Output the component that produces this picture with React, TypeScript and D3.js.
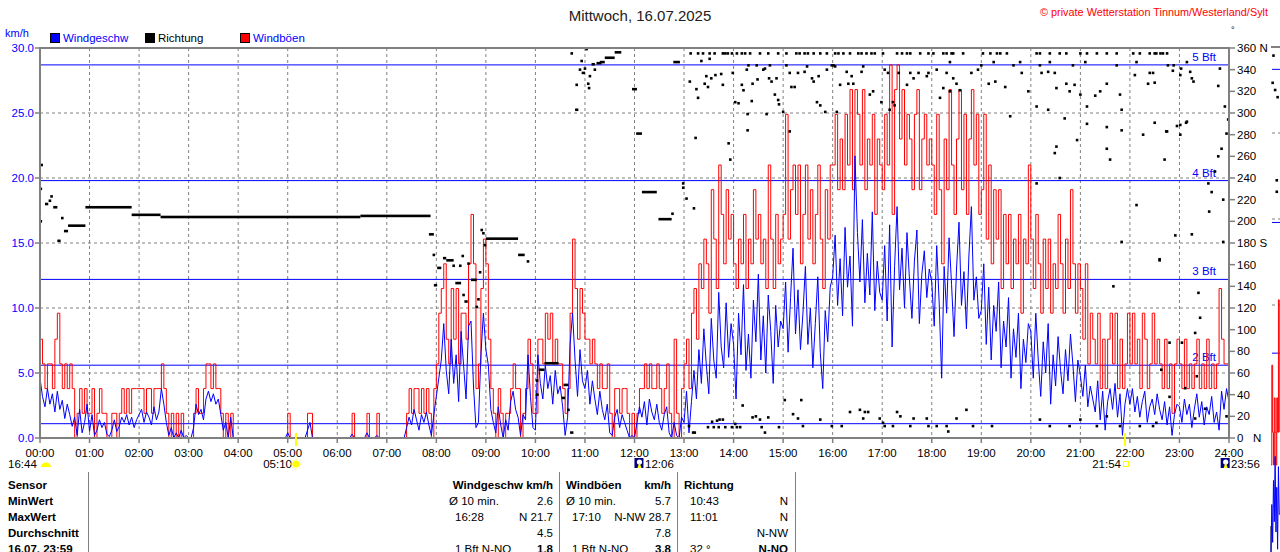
import React from "react";
import * as d3 from "d3";

// ---------------- DATA ----------------
const SAMPLE_MIN = 3; // one reading every 3 minutes

// Windgeschwindigkeit km/h, 00:00 - 07:57 (20 values per hour)
const speedNight = [
  4.6,3.2,2.4,3.8,2.6,3.4,2.0,3.6,2.2,2.9,1.5,2.6,1.8,0.9,1.6,0.2,2.2,0.4,1.2,2.6, // 00
  0.5,1.8,0.2,0.6,1.4,0.8,1.2,0.3,0.1,0.6,1.4,0.5,0.9,1.6,1.2,1.8,1.0,1.6,0.8,1.4, // 01
  1.8,2.2,1.2,2.0,1.6,1.0,2.4,1.4,2.0,3.8,2.6,1.2,0.2,0.8,0,0.4,0,0.6,0,0.2,       // 02
  0,0,0.8,2.6,1.8,2.2,1.4,3.0,3.6,2.8,3.4,2.6,3.0,1.8,0.6,1.2,0,1.6,0,0,           // 03
  0,0,0,0,0,0,0,0,0,0,0,0,0,0,0,0,0,0,0,0,                                         // 04
  0.4,0,0,0,0,0,0,0,0.6,1.2,0,0,0,0,0,0,0,0,0,0,                                   // 05
  0,0,0,0,0,0,0.3,0,0,0,0,0,0.4,0,0,0,0.2,0,0,0,                                   // 06
  0,0,0,0,0,0,0,0,0.8,1.6,1.0,2.2,1.4,0.6,1.8,1.2,2.0,1.0,0.2,1.8,                 // 07
];
// 08:00 - 12:57
const speedMorning = [
  3.2,4.6,6.0,8.8,5.2,3.4,7.6,4.2,6.4,2.8,8.2,5.6,3.0,8.6,9.0,4.0,0.8,1.2,6.4,9.6, // 08
  6.8,5.6,2.2,1.2,0.4,2.4,1.0,0,1.4,0.6,2.8,3.6,2.2,1.6,0.2,1.8,1.4,6.4,3.2,0.8,   // 09
  0.6,6.4,4.2,3.0,5.6,3.8,4.8,2.6,5.2,3.4,4.0,2.4,0.2,1.6,7.2,9.6,6.0,3.2,6.8,4.4, // 10
  3.8,5.2,2.6,4.4,3.0,1.8,3.6,2.2,1.4,2.6,0.4,0.2,1.6,2.2,0.8,1.8,1.2,0.6,0,0.2,   // 11
  0,1.2,2.4,1.6,2.8,1.0,3.0,2.0,1.4,2.6,1.2,0.6,1.8,2.4,0.4,0,1.2,0.2,0,1.6,       // 12
];
// 13:00 - 18:57
const speedAfternoon = [
  1.2,3.6,0.4,2.8,5.2,3.0,6.8,4.2,8.4,5.6,3.4,9.2,6.0,4.6,11.2,7.0,5.4,10.4,6.2,8.8,      // 13
  7.2,3.0,9.6,6.4,11.8,5.2,8.0,4.6,10.6,7.4,12.6,6.0,9.4,5.0,11.0,8.2,4.2,10.2,7.0,9.0,   // 14
  8.4,12.0,6.6,10.8,14.6,8.0,11.4,6.8,9.6,13.2,7.2,10.0,5.4,8.8,12.4,6.6,3.8,9.8,7.4,11.6, // 15
  12.4,15.6,10.2,13.8,9.4,16.2,11.6,14.0,8.6,21.7,15.8,12.0,16.8,10.4,14.2,11.0,17.4,9.8,13.6,11.2, // 16
  10.6,14.8,9.0,16.4,7.0,13.2,17.8,11.4,14.6,10.0,15.8,12.2,9.2,13.6,16.0,8.8,12.6,14.4,10.8,13.0, // 17
  12.0,8.6,14.8,10.4,4.6,13.2,9.6,15.4,11.8,7.8,13.0,16.6,10.2,12.8,8.4,14.0,17.8,10.6,12.4,9.2,  // 18
];
// 19:00 - 24:00
const speedEvening = [
  9.8,13.4,7.2,11.6,6.0,10.2,8.2,12.0,5.4,9.0,7.0,10.8,4.6,8.4,6.2,9.6,3.8,7.6,5.8,8.8, // 19
  8.2,4.6,9.6,6.0,3.2,7.4,5.0,8.8,2.6,6.4,4.0,7.8,5.2,3.4,6.8,4.4,8.0,5.6,2.8,6.0,     // 20
  4.8,3.2,5.6,2.4,4.0,3.0,2.0,4.4,1.4,3.6,0.6,2.8,3.8,2.2,4.2,1.6,3.4,0.2,2.6,3.8,     // 21
  2.6,3.8,2.0,3.2,1.6,2.8,3.6,1.2,2.4,3.0,1.8,3.4,2.2,1.4,2.8,1.0,2.4,0.2,1.8,2.6,     // 22
  2.4,1.2,3.0,1.8,2.6,0.8,2.2,3.4,1.6,2.8,1.0,2.4,1.8,3.2,1.2,2.0,0.6,3.6,2.2,3.8,2.8, // 23 + 24:00
];

// Windböen km/h
const gustNight = [
  7.6,5.7,3.8,5.7,5.7,3.8,7.6,9.6,5.7,3.8,5.7,3.8,5.7,3.8,0,1.9,3.8,1.9,3.8,1.9, // 00
  1.9,3.8,0,1.9,3.8,1.9,1.9,0,0,1.9,1.9,0,1.9,3.8,1.9,3.8,1.9,3.8,3.8,3.8,       // 01
  3.8,3.8,1.9,3.8,3.8,1.9,3.8,3.8,3.8,5.7,3.8,1.9,0,1.9,0,1.9,0,1.9,0,0,         // 02
  0,0,1.9,3.8,1.9,1.9,3.8,5.7,5.7,3.8,5.7,3.8,3.8,1.9,0,1.9,0,1.9,0,0,           // 03
  0,0,0,0,0,0,0,0,0,0,0,0,0,0,0,0,0,0,0,0,                                       // 04
  1.9,0,0,0,0,0,0,0,1.9,1.9,0,0,0,0,0,0,0,0,0,0,                                 // 05
  0,0,0,0,0,0,1.9,0,0,0,0,0,1.9,0,0,0,1.9,0,0,0,                                 // 06
  0,0,0,0,0,0,0,0,1.9,3.8,1.9,3.8,3.8,1.9,3.8,1.9,3.8,1.9,0,3.8,                 // 07
];
const gustMorning = [
  5.7,9.6,11.5,13.4,7.6,5.7,11.5,7.6,11.5,5.7,9.6,9.6,7.6,13.4,17.2,13.4,3.8,5.7,11.5,15.3, // 08
  13.4,7.6,3.8,1.9,0,3.8,1.9,0,1.9,1.9,3.8,5.7,3.8,3.8,0,1.9,3.8,7.6,5.7,1.9,             // 09
  1.9,7.6,7.6,5.7,9.6,7.6,9.6,5.7,7.6,5.7,5.7,3.8,1.9,3.8,9.6,15.3,11.5,7.6,11.5,9.6,      // 10
  7.6,7.6,5.7,7.6,5.7,3.8,5.7,3.8,3.8,5.7,1.9,0,3.8,3.8,1.9,3.8,3.8,1.9,0,1.9,             // 11
  0,1.9,3.8,3.8,5.7,3.8,5.7,3.8,3.8,5.7,3.8,1.9,3.8,5.7,1.9,0,7.6,1.9,0,3.8,               // 12
];
const gustAfternoon = [
  5.7,7.6,3.8,9.6,11.5,7.6,13.4,11.5,15.3,13.4,9.6,19.1,15.3,11.5,21.0,17.2,13.4,19.1,15.3,17.2, // 13
  13.4,11.5,15.3,13.4,17.2,11.5,15.3,13.4,19.1,15.3,17.2,13.4,15.3,11.5,21.0,15.3,11.5,17.2,13.4,15.3, // 14
  17.2,24.9,15.3,19.1,21.0,17.2,21.0,13.4,17.2,21.0,15.3,19.1,13.4,17.2,21.0,15.3,11.5,19.1,15.3,21.0, // 15
  21.0,24.9,19.1,23.0,19.1,24.9,21.0,26.8,19.1,26.8,24.9,21.0,26.8,19.1,23.0,21.0,24.9,17.2,23.0,21.0, // 16
  19.1,24.9,21.0,28.7,17.2,26.8,28.7,23.0,26.8,21.0,24.9,23.0,19.1,24.9,26.8,19.1,23.0,24.9,21.0,23.0, // 17
  21.0,17.2,24.9,19.1,13.4,23.0,19.1,26.8,21.0,17.2,23.0,26.8,19.1,24.9,17.2,23.0,26.8,21.0,24.9,17.2, // 18
];
const gustEvening = [
  19.1,24.9,15.3,21.0,13.4,19.1,15.3,19.1,11.5,17.2,13.4,17.2,11.5,15.3,13.4,17.2,9.6,15.3,13.4,21.0, // 19
  15.3,11.5,17.2,13.4,9.6,15.3,11.5,15.3,9.6,13.4,11.5,17.2,13.4,9.6,15.3,11.5,19.1,13.4,9.6,13.4,    // 20
  11.5,7.6,13.4,5.7,9.6,7.6,5.7,9.6,3.8,7.6,3.8,7.6,9.6,5.7,9.6,3.8,7.6,3.8,5.7,9.6,                 // 21
  5.7,9.6,5.7,7.6,3.8,9.6,7.6,3.8,5.7,9.6,5.7,7.6,5.7,3.8,7.6,3.8,5.7,1.9,5.7,7.6,                   // 22
  5.7,3.8,7.6,3.8,5.7,3.8,5.7,7.6,3.8,5.7,3.8,7.6,3.8,5.7,3.8,5.7,11.5,7.6,5.7,5.7,5.7,              // 23 + 24:00
];

// Richtung: steady runs [startMinute, endMinute, degrees]
const dirRuns: [number, number, number][] = [
  [6,10,216],[16,21,213],[21,25,182],[29,34,191],[34,55,196],[55,111,213],[111,146,206],
  [146,388,204],[388,473,205],[471,477,188],[477,481,141],[481,486,157],[488,492,166],
  [492,501,164],[503,510,143],[514,518,126],[522,529,146],[540,579,184],[579,587,169],
  [600,604,40],[604,611,63],[611,628,69],[632,636,37],[634,640,49],[642,646,5],[648,652,303],
  [656,660,337],[668,672,345],[674,680,346],[678,684,347],[684,696,351],[696,704,356],
  [717,723,322],[722,729,281],[729,747,227],[749,765,202],[767,775,347],
];
// Richtung: single readings [minute, degrees]
const dirDotsMorning: [number, number][] = [
  [1,200],[1,230],[2,252],[12,219],[14,223],[27,203],[477,169],[501,159],[509,159],[512,168],
  [513,132],[519,161],[529,121],[531,128],[533,153],[535,192],[537,189],[539,178],[591,163],
  [602,53],[640,26],[644,355],[650,326],[654,340],[656,348],[660,341],[662,359],[664,327],
  [665,323],[666,334],[672,340],[766,207],[779,235],[779,231],[783,221],[792,212],
];
const dirDotsAfternoon: [number, number][] = [
  [788,355],[797,355],[803,355],[811,355],[817,355],[827,355],[830,355],[833,355],[838,355],
  [801,348],[811,350],[787,329],[795,322],[805,327],[807,334],[809,324],[813,332],[818,335],
  [825,336],[827,326],[797,314],[794,277],[834,272],[836,257],[786,11],[791,5],[793,5],
  [814,15],[820,16],[823,17],[827,17],[809,10],[816,10],[822,10],[830,10],[838,10],
  [844,355],[850,355],[854,355],[860,355],[872,355],[882,355],[894,355],[858,344],[868,344],
  [884,344],[839,337],[850,326],[852,321],[856,340],[863,327],[869,331],[876,340],[878,341],
  [883,332],[886,329],[892,332],[890,317],[894,312],[895,308],[842,310],[846,309],[862,311],
  [857,299],[880,299],[857,284],[842,13],[844,10],[848,10],[851,30],[863,19],[867,20],
  [872,17],[874,10],[878,5],[882,19],[895,10],
  [904,355],[916,355],[920,355],[926,355],[930,355],[937,355],[945,355],[953,355],[963,355],
  [967,355],[973,355],[981,355],[991,355],[995,355],[1001,355],[1007,355],[1011,355],
  [1021,355],[1038,355],[1044,355],[1050,355],[1054,355],[1066,355],[1076,355],[1082,355],
  [1094,355],[1098,355],[1106,355],
  [904,344],[908,337],[910,324],[914,324],[918,337],[926,338],[929,343],[935,332],[937,329],
  [941,310],[943,334],[945,307],[953,340],[959,344],[961,344],[963,343],[969,326],[977,338],
  [979,327],[983,334],[985,327],[995,338],[997,343],[1005,317],[1009,320],[1019,310],
  [1023,340],[1027,337],[1029,303],[1033,310],[1035,307],[1040,337],[1050,326],[1054,337],
  [1058,332],[1064,337],[1074,334],[1076,337],[1086,340],[1090,314],[1094,323],[1098,337],
  [1102,320],[1110,327],[908,283],[900,301],[951,301],[965,301],
  [902,35],[922,35],[912,22],[918,18],[924,11],[945,17],[959,11],[971,11],[981,24],[993,26],
  [999,24],[997,18],[1003,24],[1017,18],[1021,14],[1023,11],[1033,11],[1038,24],[1042,20],
  [1054,11],[1058,18],[1074,18],[1076,11],[1086,11],[1098,11],[1110,18],
];
const dirDotsEvening: [number, number][] = [
  [1104,355],[1118,355],[1142,355],[1151,355],[1159,355],[1163,355],[1171,355],[1207,355],
  [1211,355],[1223,355],[1235,355],[1243,355],[1260,355],[1268,355],[1280,355],[1292,355],
  [1304,355],[1324,355],[1332,355],[1344,355],[1350,355],[1352,355],[1357,355],[1360,355],[1365,355],
  [1102,347],[1140,344],[1155,347],[1179,344],[1187,347],[1211,344],[1223,347],[1251,344],
  [1266,347],[1304,344],[1328,347],[1373,344],[1389,347],
  [1106,332],[1114,321],[1128,337],[1136,340],[1149,327],[1157,329],[1169,324],[1189,337],
  [1197,320],[1207,306],[1213,337],[1221,338],[1229,337],[1231,323],[1243,327],[1247,320],
  [1253,326],[1260,317],[1268,306],[1278,316],[1284,320],[1292,327],[1308,317],[1310,303],
  [1326,335],[1342,327],[1344,337],[1381,335],
  [1175,297],[1221,303],[1241,295],[1268,290],[1292,287],[1310,284],[1336,280],[1365,283],
  [1381,289],[1389,292],[1231,269],[1256,275],[1229,263],[1292,267],[1296,257],[1328,215],
  [1356,164],[1310,181],[1235,240],[1207,235],[1300,140],
  [1100,6],[1130,11],[1153,11],[1211,17],[1223,11],[1247,11],[1260,17],[1280,11],[1292,20],
  [1308,11],[1332,11],[1348,11],[1122,26],
  [1366,344],[1372,339],[1382,341],[1393,338],[1395,332],[1397,329],[1429,341],[1348,337],
  [1350,328],[1427,325],[1435,306],[1439,294],[1350,291],[1364,283],[1377,288],[1388,291],
  [1381,280],[1437,281],[1427,260],[1431,267],[1362,257],[1423,246],[1415,235],[1419,227],
  [1433,220],[1416,209],[1395,188],[1375,187],[1433,181],[1356,165],[1403,134],[1405,111],
  [1399,97],[1383,88],[1368,88],[1358,63],[1401,57],[1387,46],[1368,38],[1411,27],[1352,14],
  [1399,18],[1437,20],
];

// next day's panel (only its first minutes are visible at the right edge)
const nextGust = [5.7,11.5,7.6,5.7,9.6,7.6,5.7,9.6,7.6,15.3,7.6];
const nextSpeed = [0.6,3.4,1.2,4.8,2.4,6.2,1.8,4.4,0.8,5.6,2.8];
const nextDirDots: [number, number][] = [[3,354],[2,335],[5,330],[8,325],[7,267],[7,259]];

// axes
const hourValues = d3.range(0, 25);
const hourLabels = hourValues.map((h) => `${String(h).padStart(2, "0")}:00`);
const speedTicks = [0, 5, 10, 15, 20, 25, 30];
const gridSpeed = [5, 10, 15, 20, 25];
const dirTicks = d3.range(0, 361, 20);
const dirCompass: Record<number, string> = { 360: "N", 180: "S", 0: "N" };
const bftNames = ["", "2 Bft", "3 Bft", "4 Bft", "5 Bft"];
const bftKmh = [1.1, 5.6, 12.2, 19.8, 28.7];

// sun / moon events
const sunriseMin = 5 * 60 + 10;
const sunsetMin = 21 * 60 + 54;
const moonEvents = [
  { label: "16:44", kind: "moonset" },
  { label: "12:06", min: 12 * 60 + 6, kind: "moon" },
  { label: "23:56", min: 23 * 60 + 56, kind: "moon" },
];

// table
const tableLabels = ["Sensor", "MinWert", "MaxWert", "Durchschnitt", "16.07. 23:59"];
const speedHeader = "Windgeschw km/h";
const speedRows = [["Ø 10 min.", "2.6"], ["16:28", "N 21.7"], ["", "4.5"], ["1 Bft N-NO", "1.8"]];
const gustHeader = ["Windböen", "km/h"];
const gustRows = [["Ø 10 min.", "5.7"], ["17:10", "N-NW 28.7"], ["", "7.8"], ["1 Bft N-NO", "3.8"]];
const dirHeader = "Richtung";
const dirRows = [["10:43", "N"], ["11:01", "N"], ["", "N-NW"], ["32 °", "N-NO"]];

// ---------------- CHART ----------------
const FONT = "'Liberation Sans', Arial, Helvetica, sans-serif";
const BLUE = "#0000ff";
const RED = "#ff0000";
const GRAY = "#808080";

export default function App() {
  const speed = [...speedNight, ...speedMorning, ...speedAfternoon, ...speedEvening];
  const gust = [...gustNight, ...gustMorning, ...gustAfternoon, ...gustEvening];
  const dirDots = [...dirDotsMorning, ...dirDotsAfternoon, ...dirDotsEvening];

  const x = d3.scaleLinear().domain([0, 1440]).range([40, 1229]);
  const y = d3.scaleLinear().domain([0, 30]).range([438, 48]);
  const yDir = d3.scaleLinear().domain([0, 360]).range([438, 48]);

  const gustPath = d3
    .line<number>()
    .x((_, i) => x(i * SAMPLE_MIN))
    .y((d) => y(d))
    .curve(d3.curveStepAfter)(gust) || "";
  const speedPath = d3
    .line<number>()
    .x((_, i) => x(i * SAMPLE_MIN))
    .y((d) => y(d))(speed) || "";

  // next-day panel scales
  const xN = d3.scaleLinear().domain([0, 1440]).range([1271, 1271 + 1189]);
  const yN = d3.scaleLinear().domain([0, 30]).range([563, 47]);
  const yNDir = d3.scaleLinear().domain([0, 360]).range([563, 47]);
  const nGustPath = d3.line<number>().x((_, i) => xN(i)).y((d) => yN(d)).curve(d3.curveStepAfter)(nextGust) || "";
  const nSpeedPath = d3.line<number>().x((_, i) => xN(i)).y((d) => yN(d))(nextSpeed) || "";

  const rowY = [485, 501, 517, 533, 549];
  const moonIcon = (cx: number) => (
    <g>
      <rect x={cx - 4} y={458} width={9} height={10} fill="#000080" />
      <circle cx={cx + 1} cy={462} r={2.6} fill="#ffffff" />
      <path d={`M${cx - 1},468 L${cx + 1},462 L${cx + 3},468 Z`} fill="#ffff00" />
    </g>
  );

  return (
    <div style={{ position: "absolute", left: 0, top: 0 }}>
      <svg width={1280} height={552} style={{ display: "block", background: "#fff" }} fontFamily={FONT}>
        <rect x={0} y={0} width={1280} height={552} fill="#ffffff" />

        {/* title */}
        <text x={640} y={21} textAnchor="middle" fontSize={15} fill="#202020">Mittwoch, 16.07.2025</text>
        <text x={1040} y={16} fontSize={11} fill={RED} textLength={228} lengthAdjust="spacingAndGlyphs">© private Wetterstation Tinnum/Westerland/Sylt</text>
        <text x={1231} y={33} fontSize={9} fill="#000">°</text>

        {/* legend */}
        <text x={5} y={37} fontSize={11} fill={BLUE}>km/h</text>
        <rect x={50.5} y={33.5} width={9} height={9} fill={BLUE} stroke="#000" />
        <text x={63} y={42} fontSize={11.5} fill={BLUE}>Windgeschw</text>
        <rect x={145.5} y={33.5} width={9} height={9} fill="#000" stroke="#000" />
        <text x={158} y={42} fontSize={11.5} fill="#000">Richtung</text>
        <rect x={240.5} y={33.5} width={9} height={9} fill={RED} stroke="#000" />
        <text x={253} y={42} fontSize={11.5} fill={BLUE}>Windböen</text>

        {/* grid */}
        {gridSpeed.map((v) => (
          <line key={"gh" + v} x1={x(0)} x2={x(1440)} y1={y(v)} y2={y(v)} stroke={GRAY} strokeDasharray="3 3" />
        ))}
        {hourValues.slice(1, 24).map((h) => (
          <line key={"gv" + h} x1={x(h * 60)} x2={x(h * 60)} y1={y(30)} y2={y(0)} stroke={GRAY} strokeDasharray="3 3" />
        ))}

        {/* Beaufort lines */}
        {bftKmh.map((v, i) => (
          <g key={"bft" + i}>
            <line x1={x(0)} x2={x(1440)} y1={y(v)} y2={y(v)} stroke={BLUE} strokeWidth={1} />
            {bftNames[i] && (
              <text x={1216} y={y(v) - 4} textAnchor="end" fontSize={11.5} fill={BLUE}>{bftNames[i]}</text>
            )}
          </g>
        ))}

        {/* data */}
        <path d={gustPath} fill="none" stroke={RED} strokeWidth={1} />
        <path d={speedPath} fill="none" stroke={BLUE} strokeWidth={1} />
        {dirRuns.map(([a, b, d], i) => (
          <rect key={"run" + i} x={x(a)} y={yDir(d) - 1.3} width={Math.max(2.6, x(b) - x(a))} height={2.6} fill="#000" />
        ))}
        {dirDots.map(([m, d], i) => (
          <rect key={"dot" + i} x={x(m) - 1.3} y={yDir(d) - 1.3} width={2.6} height={2.6} fill="#000" />
        ))}

        {/* frame */}
        <rect x={x(0)} y={y(30)} width={x(1440) - x(0)} height={y(0) - y(30)} fill="none" stroke={GRAY} strokeWidth={2} />

        {/* left axis */}
        {speedTicks.map((v) => (
          <g key={"ls" + v}>
            <line x1={35} x2={40} y1={y(v)} y2={y(v)} stroke={GRAY} strokeWidth={1.5} />
            <text x={34} y={y(v) + 4} textAnchor="end" fontSize={11.5} fill={BLUE}>{v.toFixed(1)}</text>
          </g>
        ))}

        {/* right axis */}
        {dirTicks.map((d) => (
          <g key={"rd" + d}>
            <line x1={1229} x2={1235} y1={yDir(d)} y2={yDir(d)} stroke={GRAY} strokeWidth={1.5} />
            <text x={1237} y={yDir(d) + 4} fontSize={11.5} fill="#000">
              {d === 0 ? "0" : d}
              {d !== 0 && dirCompass[d] ? " " + dirCompass[d] : ""}
            </text>
            {d === 0 && <text x={1253} y={yDir(d) + 4} fontSize={11.5} fill="#000">{dirCompass[0]}</text>}
          </g>
        ))}

        {/* bottom axis */}
        {hourValues.map((h, i) => (
          <g key={"ha" + h}>
            <line x1={x(h * 60)} x2={x(h * 60)} y1={438} y2={443} stroke={GRAY} strokeWidth={1.5} />
            <text x={x(h * 60)} y={457} textAnchor="middle" fontSize={11.5} fill="#000">{hourLabels[i]}</text>
          </g>
        ))}

        {/* sunrise / sunset markers */}
        <line x1={x(sunriseMin)} x2={x(sunriseMin)} y1={433} y2={446} stroke="#ffff00" strokeWidth={2} />
        <line x1={x(sunsetMin)} x2={x(sunsetMin)} y1={433} y2={446} stroke="#ffff00" strokeWidth={2} />
        <text x={292} y={468} textAnchor="end" fontSize={11.5} fill="#000">05:10</text>
        <g>
          {d3.range(8).map((k) => {
            const a = (k * Math.PI) / 4;
            return (
              <line key={"ray" + k} x1={x(sunriseMin) + Math.cos(a) * 4} y1={464 + Math.sin(a) * 4}
                x2={x(sunriseMin) + Math.cos(a) * 6} y2={464 + Math.sin(a) * 6} stroke="#ffff66" strokeWidth={1} />
            );
          })}
          <circle cx={x(sunriseMin)} cy={464} r={3.6} fill="#ffff00" />
        </g>
        <text x={1121} y={468} textAnchor="end" fontSize={11.5} fill="#000">21:54</text>
        <rect x={x(sunsetMin) - 1.5} y={461.5} width={5} height={5} fill="none" stroke="#ffff00" />

        <text x={8} y={468} fontSize={11.5} fill="#000">{moonEvents[0].label}</text>
        <path d="M41,467 A5,4.5 0 0 1 51,467 Z" fill="#ffff00" />
        {moonIcon(x(moonEvents[1].min as number) - 1)}
        <text x={645} y={468} fontSize={11.5} fill="#000">{moonEvents[1].label}</text>
        {moonIcon(x(moonEvents[2].min as number) - 1)}
        <text x={1231} y={468} fontSize={11.5} fill="#000">{moonEvents[2].label}</text>

        {/* table */}
        {[88, 559, 677, 795].map((vx) => (
          <line key={"tv" + vx} x1={vx + 0.5} x2={vx + 0.5} y1={472} y2={552} stroke={GRAY} />
        ))}
        {tableLabels.map((t, i) => (
          <text key={"tl" + i} x={8} y={rowY[i] + 4} fontSize={11.5} fontWeight="bold" fill="#000">{t}</text>
        ))}
        <text x={553} y={rowY[0] + 4} textAnchor="end" fontSize={11.5} fontWeight="bold" fill="#000">{speedHeader}</text>
        {speedRows.map(([l, r], i) => (
          <g key={"sr" + i}>
            <text x={i === 0 ? 449 : 455} y={rowY[i + 1] + 4} fontSize={11.5} fill="#000">{l}</text>
            <text x={553} y={rowY[i + 1] + 4} textAnchor="end" fontSize={11.5} fontWeight={i === 3 ? "bold" : "normal"} fill="#000">{r}</text>
          </g>
        ))}
        <text x={566} y={rowY[0] + 4} fontSize={11.5} fontWeight="bold" fill="#000">{gustHeader[0]}</text>
        <text x={671} y={rowY[0] + 4} textAnchor="end" fontSize={11.5} fontWeight="bold" fill="#000">{gustHeader[1]}</text>
        {gustRows.map(([l, r], i) => (
          <g key={"gr" + i}>
            <text x={i === 0 ? 566 : 572} y={rowY[i + 1] + 4} fontSize={11.5} fill="#000">{l}</text>
            <text x={671} y={rowY[i + 1] + 4} textAnchor="end" fontSize={11.5} fontWeight={i === 3 ? "bold" : "normal"} fill="#000">{r}</text>
          </g>
        ))}
        <text x={684} y={rowY[0] + 4} fontSize={11.5} fontWeight="bold" fill="#000">{dirHeader}</text>
        {dirRows.map(([l, r], i) => (
          <g key={"dr" + i}>
            <text x={690} y={rowY[i + 1] + 4} fontSize={11.5} fill="#000">{l}</text>
            <text x={788} y={rowY[i + 1] + 4} textAnchor="end" fontSize={11.5} fontWeight={i === 3 ? "bold" : "normal"} fill="#000">{r}</text>
          </g>
        ))}

        {/* next-day panel, clipped at the right edge */}
        <g>
          <line x1={1271} x2={1280} y1={47} y2={47} stroke={GRAY} strokeWidth={2} />
          <line x1={1271} x2={1271} y1={526} y2={552} stroke={GRAY} strokeWidth={2} />
          {[25, 20, 15].map((v) => (
            <line key={"ng" + v} x1={1272} x2={1280} y1={yN(v)} y2={yN(v)} stroke={GRAY} strokeDasharray="3 3" />
          ))}
          {bftKmh.slice(2).map((v) => (
            <line key={"nb" + v} x1={1272} x2={1280} y1={yN(v)} y2={yN(v)} stroke={BLUE} />
          ))}
          <path d={nGustPath} fill="none" stroke={RED} />
          <path d={nSpeedPath} fill="none" stroke={BLUE} />
          {nextDirDots.map(([m, d], i) => (
            <rect key={"nd" + i} x={xN(m) - 1.3} y={yNDir(d) - 1.3} width={2.6} height={2.6} fill="#000" />
          ))}
        </g>
      </svg>
    </div>
  );
}
